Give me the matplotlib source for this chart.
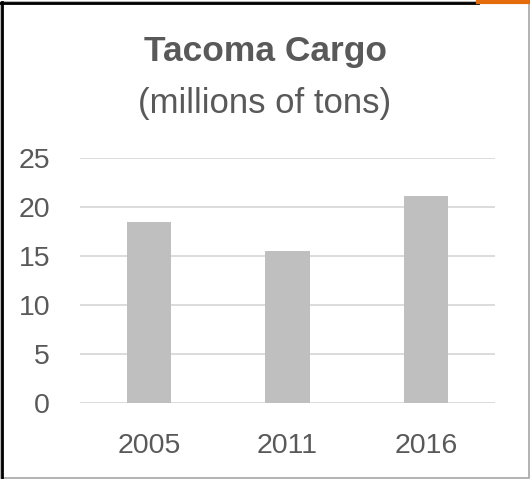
import matplotlib.pyplot as plt
from matplotlib.patches import Rectangle

# datos
anios = ['2005', '2011', '2016']
carga = [18.5, 15.5, 21.1]
yticks = [0, 5, 10, 15, 20, 25]

plt.rcParams['font.family'] = ['Liberation Sans', 'DejaVu Sans']
gris_texto = '#595959'

fig = plt.figure(figsize=(5.30, 4.79), dpi=100)
ax = fig.add_axes([80 / 530, 1 - 403 / 479, 415 / 530, 245 / 479])

x = range(len(anios))
ax.bar(x, carga, width=0.32, color='#bfbfbf', zorder=2)

ax.set_xlim(-0.5, 2.5)
ax.set_ylim(0, 25)
ax.set_xticks(list(x))
ax.set_xticklabels(anios)
ax.set_yticks(yticks)
ax.tick_params(axis='both', length=0, labelsize=20.5, colors=gris_texto)
ax.tick_params(axis='x', pad=21.5)
ax.tick_params(axis='y', pad=21.5)

# cuadricula
ax.yaxis.grid(True, color='#d9d9d9', linewidth=1.3, zorder=0)
for s in ax.spines.values():
    s.set_visible(False)

# titulos
fig.text(0.5, 1 - 52 / 479, 'Tacoma Cargo', ha='center', va='center',
         fontsize=25.5, fontweight='bold', color=gris_texto)
fig.text(0.5, 1 - 103 / 479, '(millions of tons)', ha='center', va='center',
         fontsize=25, color=gris_texto)

# marco
fig.patches.append(Rectangle((1 / 530, 1 / 479), 527.5 / 530, 476 / 479,
                             transform=fig.transFigure, fill=False,
                             edgecolor='#a6a6a6', linewidth=1.2))
fig.add_artist(plt.Line2D([1.5 / 530, 1.5 / 530], [0, 1 - 2 / 479],
                          transform=fig.transFigure, color='black', linewidth=2))
fig.add_artist(plt.Line2D([0, 478 / 530], [1 - 2.5 / 479, 1 - 2.5 / 479],
                          transform=fig.transFigure, color='black', linewidth=2))
fig.add_artist(plt.Line2D([478 / 530, 1], [1 - 1.5 / 479, 1 - 1.5 / 479],
                          transform=fig.transFigure, color='#e46c0a', linewidth=3))

plt.savefig('out.png', dpi=100)
